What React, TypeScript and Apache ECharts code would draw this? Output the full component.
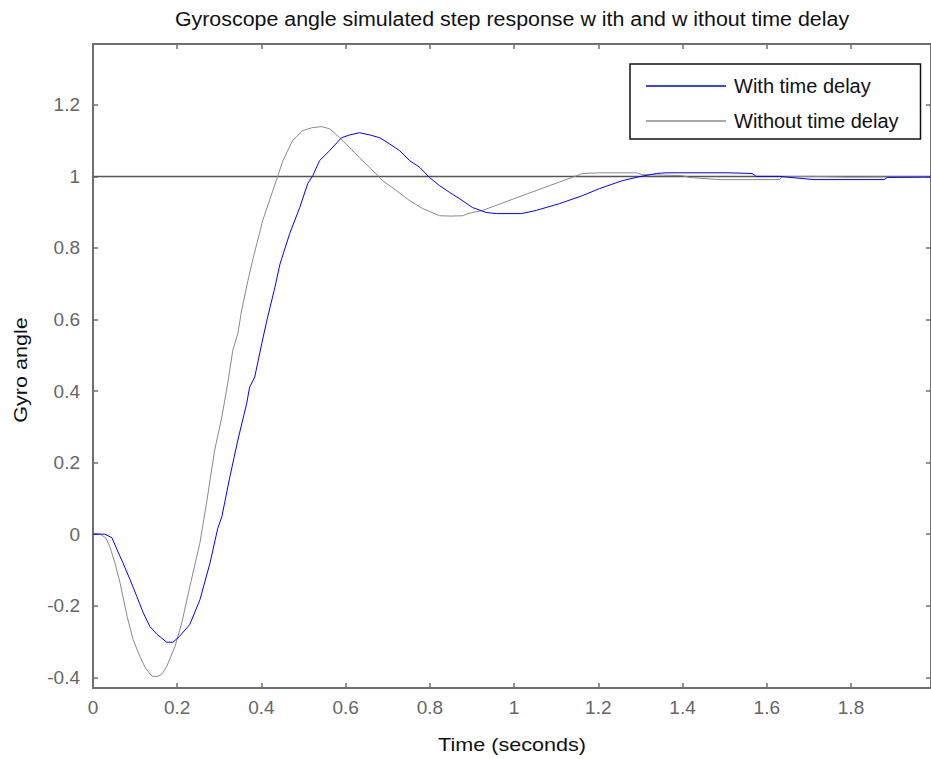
import React, { useEffect, useRef } from "react";
import * as echarts from "echarts";

const titleText = "Gyroscope angle simulated step response w ith and w ithout time delay";
const xName = "Time (seconds)";
const yName = "Gyro angle";
const seriesNames = ["With time delay", "Without time delay"];

const xTicks = [0, 0.2, 0.4, 0.6, 0.8, 1, 1.2, 1.4, 1.6, 1.8];
const yTicks = [-0.4, -0.2, 0, 0.2, 0.4, 0.6, 0.8, 1, 1.2];

const delayTime = [0, 0.028, 0.045, 0.057, 0.071, 0.088, 0.104, 0.119, 0.135, 0.152, 0.175, 0.19, 0.206, 0.23, 0.254, 0.278, 0.296, 0.306, 0.325, 0.344, 0.365, 0.372, 0.384, 0.401, 0.413, 0.432, 0.444, 0.467, 0.491, 0.51, 0.522, 0.538, 0.562, 0.59, 0.61, 0.633, 0.657, 0.681, 0.704, 0.728, 0.752, 0.776, 0.799, 0.823, 0.847, 0.87, 0.901, 0.934, 0.958, 1.018, 1.053, 1.108, 1.162, 1.203, 1.257, 1.297, 1.338, 1.361, 1.506, 1.565, 1.575, 1.63, 1.712, 1.879, 1.886, 1.99];
const delayAngle = [0, 0, -0.01, -0.043, -0.08, -0.127, -0.174, -0.219, -0.258, -0.28, -0.302, -0.302, -0.285, -0.252, -0.183, -0.08, 0.015, 0.049, 0.16, 0.263, 0.366, 0.411, 0.439, 0.534, 0.598, 0.69, 0.755, 0.84, 0.913, 0.98, 1.002, 1.044, 1.072, 1.108, 1.116, 1.122, 1.116, 1.108, 1.091, 1.072, 1.044, 1.025, 0.997, 0.974, 0.955, 0.938, 0.913, 0.899, 0.896, 0.896, 0.905, 0.924, 0.946, 0.966, 0.988, 0.999, 1.008, 1.01, 1.01, 1.008, 1.0, 1.0, 0.991, 0.991, 0.997, 0.998];

const noDelayTime = [0, 0.017, 0.03, 0.04, 0.052, 0.064, 0.081, 0.095, 0.111, 0.125, 0.14, 0.152, 0.163, 0.175, 0.195, 0.211, 0.23, 0.254, 0.27, 0.278, 0.289, 0.306, 0.32, 0.332, 0.344, 0.353, 0.368, 0.38, 0.403, 0.427, 0.439, 0.451, 0.474, 0.498, 0.52, 0.543, 0.562, 0.586, 0.61, 0.633, 0.657, 0.688, 0.721, 0.752, 0.783, 0.823, 0.85, 0.878, 0.89, 0.925, 0.96, 1.005, 1.045, 1.084, 1.138, 1.162, 1.203, 1.29, 1.305, 1.4, 1.416, 1.487, 1.63, 1.637, 1.708, 1.8, 1.99];
const noDelayAngle = [0, 0, -0.01, -0.035, -0.08, -0.135, -0.23, -0.294, -0.341, -0.375, -0.397, -0.398, -0.392, -0.37, -0.313, -0.247, -0.146, -0.024, 0.09, 0.152, 0.235, 0.328, 0.422, 0.514, 0.561, 0.626, 0.709, 0.77, 0.877, 0.96, 1.002, 1.044, 1.1, 1.128, 1.136, 1.139, 1.133, 1.108, 1.08, 1.052, 1.025, 0.988, 0.96, 0.932, 0.91, 0.89, 0.889, 0.89, 0.896, 0.905, 0.92, 0.94, 0.957, 0.974, 0.997, 1.008, 1.01, 1.01, 1.005, 1.002, 0.997, 0.991, 0.991, 0.999, 1.0, 0.998, 0.999];

const refTime = [0, 1.99];
const refValue = [1, 1];

const zip = (a: number[], b: number[]) => a.map((v, i) => [v, b[i]]);

const FONT = "'Liberation Sans', Arial, sans-serif";
const AXIS_COLOR = "#6f6f6f";

export default function App() {
  const ref = useRef<HTMLDivElement>(null);
  useEffect(() => {
    if (!ref.current) return;
    const chart = echarts.init(ref.current, undefined, { renderer: "svg" });
    const axisCommon = {
      type: "value" as const,
      axisLine: { show: true, onZero: false, lineStyle: { color: AXIS_COLOR, width: 2 } },
      axisTick: { show: true, inside: true, length: 5, lineStyle: { color: AXIS_COLOR, width: 1.5 } },
      splitLine: { show: false },
    };
    chart.setOption({
      animation: false,
      backgroundColor: "#fff",
      textStyle: { fontFamily: FONT },
      graphic: [
        {
          type: "text",
          x: 512,
          y: 19,
          scaleX: 1.07,
          style: {
            text: titleText,
            font: `20px ${FONT}`,
            fill: "#111",
            textAlign: "center",
            textVerticalAlign: "middle",
          },
        },
        {
          type: "text",
          x: 512,
          y: 745,
          scaleX: 1.2,
          style: {
            text: xName,
            font: `18px ${FONT}`,
            fill: "#111",
            textAlign: "center",
            textVerticalAlign: "middle",
          },
        },
        {
          type: "text",
          x: 21,
          y: 370,
          rotation: Math.PI / 2,
          scaleX: 1.2,
          style: {
            text: yName,
            font: `18px ${FONT}`,
            fill: "#111",
            textAlign: "center",
            textVerticalAlign: "middle",
          },
        },
      ],
      grid: { left: 93, right: 0, top: 44, bottom: 71 },
      legend: {
        data: seriesNames,
        orient: "vertical",
        left: 630,
        top: 64,
        padding: [12, 22, 8, 16],
        icon: "rect",
        itemWidth: 80,
        itemHeight: 1.5,
        itemGap: 15,
        backgroundColor: "#fff",
        borderColor: "#111",
        borderWidth: 1.5,
        borderRadius: 0,
        textStyle: { fontFamily: FONT, fontSize: 20, color: "#111", padding: [0, 0, 0, 3] },
      },
      xAxis: [
        {
          ...axisCommon,
          position: "bottom",
          min: 0,
          max: 1.99,
          axisTick: { ...axisCommon.axisTick, customValues: xTicks },
          axisLabel: {
            customValues: xTicks,
            margin: 10,
            fontSize: 19,
            color: "#666",
            fontFamily: FONT,
          },
        },
        {
          ...axisCommon,
          position: "top",
          min: 0,
          max: 1.99,
          axisTick: { ...axisCommon.axisTick, customValues: xTicks },
          axisLabel: { show: false },
        },
      ],
      yAxis: [
        {
          ...axisCommon,
          position: "left",
          min: -0.43,
          max: 1.37,
          axisTick: { ...axisCommon.axisTick, customValues: yTicks },
          axisLabel: {
            customValues: yTicks,
            margin: 13,
            fontSize: 19,
            color: "#666",
            fontFamily: FONT,
          },
        },
        {
          ...axisCommon,
          position: "right",
          min: -0.43,
          max: 1.37,
          axisTick: { ...axisCommon.axisTick, customValues: yTicks },
          axisLabel: { show: false },
        },
      ],
      series: [
        {
          name: "reference",
          type: "line",
          data: zip(refTime, refValue),
          symbol: "none",
          lineStyle: { color: "#555", width: 1.5 },
          z: 1,
        },
        {
          name: seriesNames[1],
          type: "line",
          data: zip(noDelayTime, noDelayAngle),
          symbol: "none",
          lineStyle: { color: "#8a8a8a", width: 1 },
          itemStyle: { color: "#8a8a8a" },
          z: 2,
        },
        {
          name: seriesNames[0],
          type: "line",
          data: zip(delayTime, delayAngle),
          symbol: "none",
          lineStyle: { color: "#0000ff", width: 1 },
          itemStyle: { color: "#0000ff" },
          z: 3,
        },
      ],
    });
    return () => chart.dispose();
  }, []);
  return (
    <div
      ref={ref}
      style={{ position: "fixed", left: 0, top: 0, width: 931, height: 759, background: "#fff" }}
    />
  );
}
